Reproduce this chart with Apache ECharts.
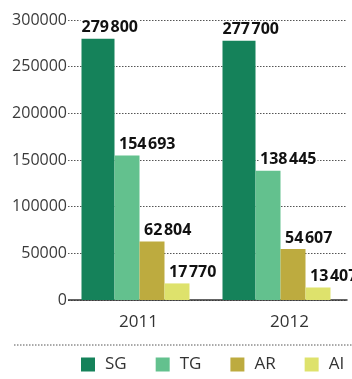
<!DOCTYPE html>
<html><head><meta charset="utf-8">
<script src="https://cdn.jsdelivr.net/npm/echarts@6/dist/echarts.min.js"></script>
<style>html,body{margin:0;padding:0;background:#fff}#c{width:352px;height:379px}</style>
</head><body><div id="c"></div>
<script>
var categories = ['2011', '2012'];
var seriesNames = ['SG', 'TG', 'AR', 'AI'];
var sgValues = [279800, 277700];
var tgValues = [154693, 138445];
var arValues = [62804, 54607];
var aiValues = [17770, 13407];
var yTicks = [0, 50000, 100000, 150000, 200000, 250000, 300000];

var colors = ['#15825a', '#63c18e', '#bdab3f', '#dee26c'];
var values = [sgValues, tgValues, arValues, aiValues];
var widths = [33, 25, 25, 25];

function fmt(v) {
  var s = String(v);
  if (s.length > 3) s = s.slice(0, s.length - 3) + '\u200A' + s.slice(s.length - 3);
  return s;
}

var chart = echarts.init(document.getElementById('c'), null, {renderer: 'canvas'});
var series = seriesNames.map(function (n, i) {
  return {
    name: n, type: 'bar', data: values[i], barWidth: widths[i], barGap: '0%',
    itemStyle: {color: colors[i]},
    label: {
      show: true, position: 'top', align: 'left', distance: 3,
      offset: [i === 0 ? -17.5 : -9, 0],
      formatter: function (p) { return fmt(p.value); },
      fontFamily: 'Open Sans', fontWeight: 'bold', fontSize: 16, color: '#111',
      backgroundColor: '#fff', padding: [0, 1, 0, 1]
    }
  };
});

chart.setOption({
  animation: false,
  textStyle: {fontFamily: 'Open Sans'},
  grid: {left: 65, right: 5, top: 20, bottom: 79, containLabel: false},
  xAxis: {
    type: 'category', data: categories,
    axisLine: {lineStyle: {color: '#333', width: 1.5}},
    axisTick: {show: false},
    axisLabel: {
      margin: 14,
      formatter: function (v, idx) { return '{l' + idx + '|' + v + '}'; },
      rich: {
        l0: {fontSize: 17, color: '#333', fontFamily: 'Open Sans', padding: [0, 0, 0, 6]},
        l1: {fontSize: 17, color: '#333', fontFamily: 'Open Sans', padding: [0, 0, 0, 26]}
      }
    }
  },
  yAxis: {
    type: 'value', min: yTicks[0], max: yTicks[yTicks.length - 1], interval: yTicks[1] - yTicks[0],
    axisLine: {show: false}, axisTick: {show: false},
    axisLabel: {fontSize: 16, color: '#3a3a3a', margin: -3, fontFamily: 'Open Sans',
      backgroundColor: '#fff', padding: [0, 1, 0, 0],
      formatter: function (v) { return String(v); }},
    splitLine: {lineStyle: {color: '#555', type: [1.5, 1.5], width: 1}}
  },
  legend: {
    data: seriesNames, left: 81, top: 356, width: 330, padding: 0, icon: 'rect', itemWidth: 14, itemHeight: 14, itemGap: 29,
    textStyle: {fontSize: 17, color: '#333', fontFamily: 'Open Sans', padding: [0, 0, 0, 5]}
  },
  graphic: [{
    type: 'line', shape: {x1: 14, y1: 345, x2: 352, y2: 345},
    style: {stroke: '#555', lineWidth: 1, lineDash: [1.5, 1.5]}
  }],
  series: series
});
</script></body></html>
